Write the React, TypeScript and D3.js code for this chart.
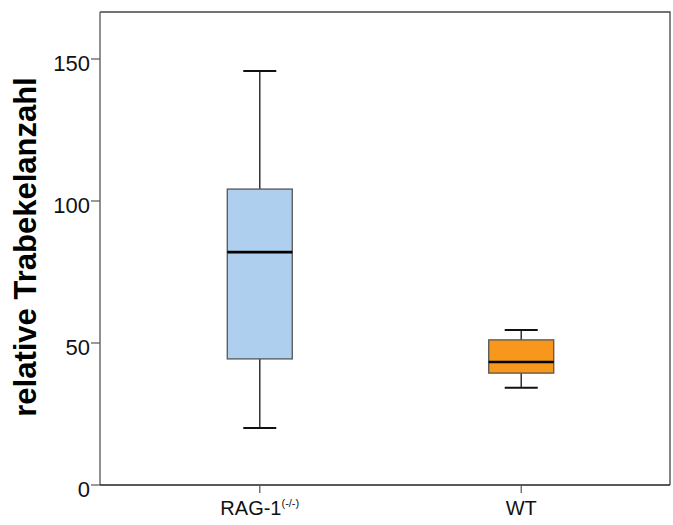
import React from "react";
import * as d3 from "d3";

const categories = ["RAG-1", "WT"];
const superscripts = ["(-/-)", ""];
const whiskerLow = [20.1, 34.2];
const q1 = [44.4, 39.4];
const medians = [82.0, 43.3];
const q3 = [104.2, 51.1];
const whiskerHigh = [145.8, 54.6];
const fills = ["#aed0ee", "#f7981d"];
const yTicks = [0, 50, 100, 150];

const W = 673;
const H = 525;
const left = 100;
const right = 670;
const top = 12;
const bottom = 485;

export default function App() {
  const y = d3.scaleLinear().domain([0, 150]).range([bottom, 59]);
  const x = d3.scalePoint<string>().domain(categories).range([105, 676]).padding(0.592);
  const boxW = 65;
  const capW = 33;
  const line = "#333333";
  const font = "Liberation Sans, Arial, sans-serif";
  return (
    <svg width={W} height={H} style={{ position: "absolute", left: 0, top: 0 }}>
      <rect x={0} y={0} width={W} height={H} fill="#ffffff" />
      {/* frame */}
      <path d={`M${left},${top}H${right}V${bottom}`} fill="none" stroke="#444" strokeWidth={1.3} />
      <line x1={left} x2={left} y1={top} y2={bottom} stroke="#555" strokeWidth={1.3} />
      <line x1={left} x2={right} y1={bottom} y2={bottom} stroke="#222" strokeWidth={1.5} />
      {/* y ticks */}
      {yTicks.map((t) => (
        <g key={t}>
          <line x1={left - 9} x2={left} y1={y(t)} y2={y(t)} stroke="#555" strokeWidth={1.2} />
          <text x={left - 10} y={y(t) + 4} dy="0.35em" textAnchor="end" fontFamily={font} fontSize={22} fill="#111">
            {t}
          </text>
        </g>
      ))}
      {/* x ticks */}
      {categories.map((c, i) => (
        <g key={c}>
          <line x1={x(c)!} x2={x(c)!} y1={bottom} y2={bottom + 8} stroke="#555" strokeWidth={1.2} />
          <text x={x(c)!} y={bottom + 30} textAnchor="middle" fontFamily={font} fontSize={20} fill="#111">
            {c}
            {superscripts[i] && (
              <tspan fontSize={11} dy={-8}>{superscripts[i]}</tspan>
            )}
          </text>
        </g>
      ))}
      {/* boxes */}
      {categories.map((c, i) => {
        const cx = x(c)!;
        return (
          <g key={c}>
            <line x1={cx} x2={cx} y1={y(whiskerHigh[i])} y2={y(q3[i])} stroke={line} strokeWidth={1.5} />
            <line x1={cx} x2={cx} y1={y(q1[i])} y2={y(whiskerLow[i])} stroke={line} strokeWidth={1.5} />
            <line x1={cx - capW / 2} x2={cx + capW / 2} y1={y(whiskerHigh[i])} y2={y(whiskerHigh[i])} stroke="#111" strokeWidth={2} />
            <line x1={cx - capW / 2} x2={cx + capW / 2} y1={y(whiskerLow[i])} y2={y(whiskerLow[i])} stroke="#111" strokeWidth={2} />
            <rect x={cx - boxW / 2} y={y(q3[i])} width={boxW} height={y(q1[i]) - y(q3[i])} fill={fills[i]} stroke="#555" strokeWidth={1.3} />
            <line x1={cx - boxW / 2} x2={cx + boxW / 2} y1={y(medians[i])} y2={y(medians[i])} stroke="#000" strokeWidth={2.6} />
          </g>
        );
      })}
      {/* y label */}
      <text transform={`translate(36,247) rotate(-90)`} textAnchor="middle" fontFamily={font} fontWeight="bold" fontSize={31} fill="#000">
        relative Trabekelanzahl
      </text>
    </svg>
  );
}
